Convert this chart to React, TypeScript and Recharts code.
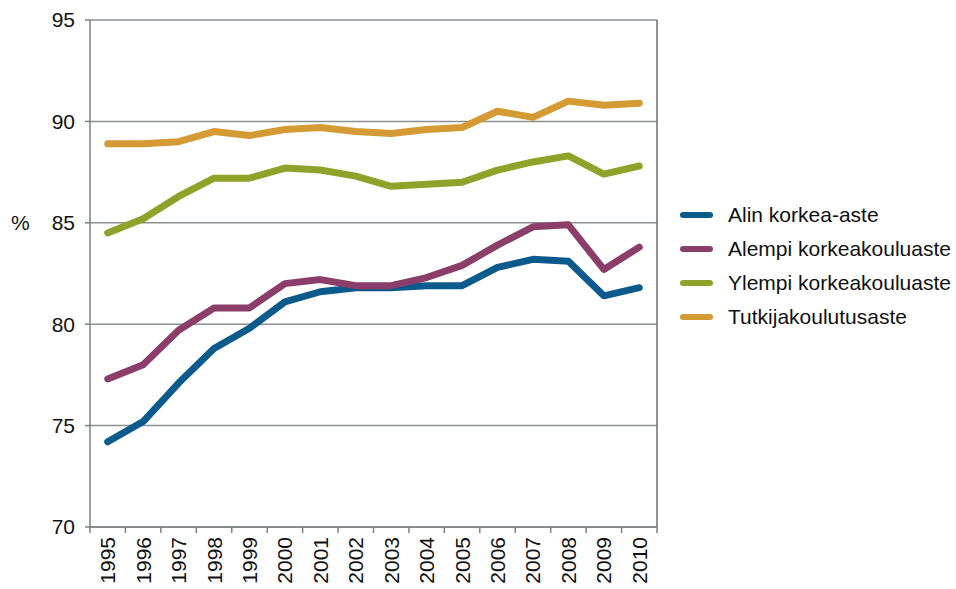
import React from "react"
import {
  LineChart,
  Line,
  XAxis,
  YAxis,
  CartesianGrid,
  Legend,
  ReferenceLine,
  Label,
} from "recharts"

const years = [1995, 1996, 1997, 1998, 1999, 2000, 2001, 2002, 2003, 2004, 2005, 2006, 2007, 2008, 2009, 2010]

const alin = [74.2, 75.2, 77.1, 78.8, 79.8, 81.1, 81.6, 81.8, 81.8, 81.9, 81.9, 82.8, 83.2, 83.1, 81.4, 81.8]
const alempi = [77.3, 78.0, 79.7, 80.8, 80.8, 82.0, 82.2, 81.9, 81.9, 82.3, 82.9, 83.9, 84.8, 84.9, 82.7, 83.8]
const ylempi = [84.5, 85.2, 86.3, 87.2, 87.2, 87.7, 87.6, 87.3, 86.8, 86.9, 87.0, 87.6, 88.0, 88.3, 87.4, 87.8]
const tutkija = [88.9, 88.9, 89.0, 89.5, 89.3, 89.6, 89.7, 89.5, 89.4, 89.6, 89.7, 90.5, 90.2, 91.0, 90.8, 90.9]

const yTicks = [70, 75, 80, 85, 90, 95]

const series = [
  { key: "alin", name: "Alin korkea-aste", color: "#0b5a8c", values: alin },
  { key: "alempi", name: "Alempi korkeakouluaste", color: "#8b3e69", values: alempi },
  { key: "ylempi", name: "Ylempi korkeakouluaste", color: "#8fa22a", values: ylempi },
  { key: "tutkija", name: "Tutkijakoulutusaste", color: "#d49a33", values: tutkija },
]

const data = years.map((year, i) => {
  const row: Record<string, number> = { year }
  series.forEach((s) => {
    row[s.key] = s.values[i]
  })
  return row
})

// labels at the years, tick marks between them
const edges = [...years.map((y) => y - 0.5), years[years.length - 1] + 0.5]
const xTicks = [...edges, ...years].sort((a, b) => a - b)

const font = "'Liberation Sans', Arial, Helvetica, sans-serif"
const axisColor = "#7c8282"

const XTick = (props: any) => {
  const { x, y, payload } = props
  const v = payload.value
  if (!Number.isInteger(v)) {
    return <line x1={x} y1={y} x2={x} y2={y + 6} stroke={axisColor} strokeWidth={1.5} />
  }
  return (
    <text
      x={x}
      y={y + 10}
      transform={`rotate(-90, ${x}, ${y + 10})`}
      textAnchor="end"
      dominantBaseline="central"
      fontSize={21}
      fill="#111"
      fontFamily={font}
    >
      {v}
    </text>
  )
}

const LegendBox = () => (
  <div style={{ fontFamily: font, fontSize: 21, color: "#111" }}>
    {series.map((s) => (
      <div key={s.key} style={{ display: "flex", alignItems: "center", height: 34 }}>
        <svg width={50} height={10}>
          <line x1={5} y1={5} x2={32} y2={5} stroke={s.color} strokeWidth={6} strokeLinecap="round" />
        </svg>
        <span>{s.name}</span>
      </div>
    ))}
  </div>
)

export default function App() {
  return (
    <div style={{ position: "absolute", left: 0, top: 0, width: 956, height: 589, background: "#fff" }}>
      <LineChart width={956} height={589} data={data} margin={{ top: 20, right: 299, left: 0, bottom: 0 }}>
        <CartesianGrid vertical={false} stroke="#8b9090" strokeWidth={1.5} />
        <XAxis
          dataKey="year"
          type="number"
          domain={[years[0] - 0.5, years[years.length - 1] + 0.5]}
          ticks={xTicks}
          interval={0}
          tickLine={false}
          tickSize={0}
          tickMargin={0}
          height={62}
          tick={<XTick />}
          axisLine={{ stroke: axisColor, strokeWidth: 1.5 }}
        />
        <YAxis
          domain={[70, 95]}
          ticks={yTicks}
          width={90}
          tickSize={5}
          tickMargin={10}
          tick={{ fontSize: 21, fill: "#111", fontFamily: font }}
          tickLine={{ stroke: axisColor, strokeWidth: 1.5 }}
          axisLine={{ stroke: axisColor, strokeWidth: 1.5 }}
        >
          <Label
            value="%"
            position="insideLeft"
            offset={11}
            dy={-51}
            style={{ fontSize: 21, fill: "#111", fontFamily: font }}
          />
        </YAxis>
        <ReferenceLine x={years[years.length - 1] + 0.5} stroke="#6a6f6f" strokeWidth={1.5} />
        {series.map((s) => (
          <Line
            key={s.key}
            dataKey={s.key}
            name={s.name}
            type="linear"
            stroke={s.color}
            strokeWidth={7}
            strokeLinecap="round"
            strokeLinejoin="round"
            dot={false}
            activeDot={false}
            isAnimationActive={false}
          />
        ))}
        <Legend
          layout="vertical"
          align="center"
          verticalAlign="middle"
          content={<LegendBox />}
          wrapperStyle={{ left: 678, top: 198, width: 278 }}
        />
      </LineChart>
    </div>
  )
}
